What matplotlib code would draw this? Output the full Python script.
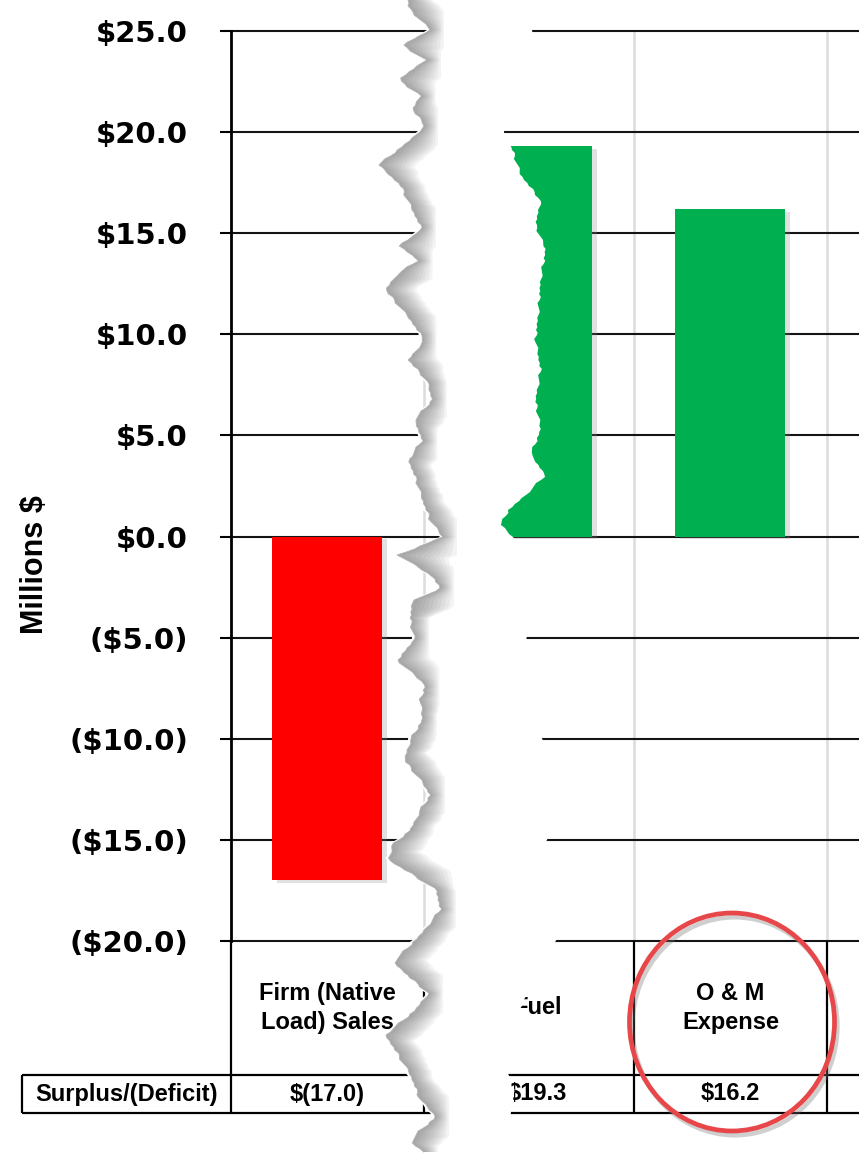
import numpy as np
import matplotlib
matplotlib.use('Agg')
import matplotlib.pyplot as plt
import matplotlib.patheffects as pe
from matplotlib.patches import Ellipse, Polygon
from matplotlib.ticker import FuncFormatter

# data
categories = ['Firm (Native\nLoad) Sales', 'Fuel', 'O & M\nExpense']
values = [-17.0, 19.3, 16.2]
row_label = 'Surplus/(Deficit)'
y_ticks = [-20, -15, -10, -5, 0, 5, 10, 15, 20, 25]

# torn paper edges (pixel rows / columns)
left_y = [0, 8, 20, 30, 45, 60, 80, 95, 110, 125, 140, 165, 185, 210, 230, 245, 260, 275, 290, 305,
          320, 340, 360, 380, 400, 420, 440, 460, 480, 500, 520, 537, 555, 577, 590, 600, 620, 640, 660, 685,
          700, 720, 740, 760, 780, 795, 810, 830, 845, 860, 875, 890, 910, 935, 962, 978, 993, 1010, 1035, 1055,
          1075, 1100, 1117, 1130, 1142, 1153]
left_x = [408, 408, 420, 430, 402, 425, 398, 420, 412, 425, 410, 378, 400, 412, 422, 398, 418, 396, 385, 398,
          410, 424, 408, 426, 432, 414, 422, 408, 416, 422, 430, 442, 398, 433, 440, 412, 410, 414, 397, 425,
          420, 422, 410, 404, 420, 430, 420, 410, 392, 388, 413, 436, 440, 420, 393, 410, 428, 415, 385, 398,
          410, 420, 436, 420, 410, 425]
right_y = [0, 31, 80, 132, 150, 175, 200, 225, 250, 280, 310, 340, 370, 400, 430, 455, 475, 495, 510, 525,
           540, 590, 637, 690, 739, 790, 840, 890, 941, 970, 1010, 1050, 1075, 1094, 1113, 1153]
right_x = [535, 532, 515, 502, 512, 520, 540, 535, 545, 540, 538, 535, 540, 535, 540, 530, 545, 525, 508, 500,
           515, 520, 525, 535, 542, 544, 546, 550, 556, 532, 520, 512, 508, 514, 510, 505]

plt.rcParams['font.family'] = 'DejaVu Sans'
plt.rcParams['font.weight'] = 'bold'

W, H = 859, 1153
fig = plt.figure(figsize=(W / 100, H / 100), dpi=100)
ax = fig.add_axes([231 / W, (H - 941) / H, 628 / W, 910 / H])

# category slots (the tear swallows a bit of space after the first one)
n = len(categories)
x = np.arange(n) + np.where(np.arange(n) > 0, 0.088, 0)
colors = ['#ff0000' if v < 0 else '#00b050' for v in values]
bars = ax.bar(x, values, width=0.57, color=colors, zorder=3)
for b in bars:
    b.set_path_effects([pe.SimplePatchShadow(offset=(3, -2), shadow_rgbFace='#888888', alpha=0.25),
                        pe.Normal()])

ax.set_xlim(-0.5, 2.754)
ax.set_ylim(-20, 25)
ax.set_yticks(y_ticks)
ax.yaxis.set_major_formatter(FuncFormatter(
    lambda v, p: f'${v:.1f}' if v >= 0 else f'(${-v:.1f})'))
ax.tick_params(axis='y', length=8, width=1.5, pad=23, labelsize=21)
ax.set_xticks([])
ax.grid(axis='y', color='#141414', lw=1.5)
ax.set_axisbelow(True)
for gl in ax.get_ygridlines():
    gl.set_clip_on(False)
for s in ['top', 'right', 'bottom']:
    ax.spines[s].set_visible(False)
ax.spines['left'].set_linewidth(2)

edges = x + 0.5
for e in edges:
    ax.axvline(e, color='#dcdcdc', lw=1.8, zorder=0.4)

ax.set_ylabel('Millions $', fontsize=22, fontweight='bold', family='Liberation Sans')
ax.yaxis.set_label_coords((50 - 231) / 628, (941 - 565) / 910)

# data table under the plot
tr = ax.get_xaxis_transform()
y_mid = (941 - 1075) / 910
y_bot = (941 - 1113) / 910
x_lab = (22 - 327.5) / 193
x_right = 2.754
lk = dict(color='black', lw=1.6, transform=tr, clip_on=False, solid_capstyle='butt')
ax.plot([x_lab, x_right], [y_mid, y_mid], **lk)
ax.plot([x_lab, x_right], [y_bot, y_bot], **lk)
ax.plot([x_lab, x_lab], [y_mid, y_bot], **lk)
for e in [-0.5] + list(edges):
    ax.plot([e, e], [0, y_bot], **lk)

tk = dict(family='Liberation Sans', fontweight='bold', fontsize=17, ha='center', va='center',
          transform=tr, clip_on=False)
for xi, c, v in zip(x, categories, values):
    ax.text(xi, (941 - 1008) / 910, c, linespacing=1.3, **tk)
    txt = f'${v:.1f}' if v >= 0 else f'$({-v:.1f})'
    ax.text(xi, (941 - 1094) / 910, txt, **tk)
ax.text((x_lab - 0.5) / 2, (941 - 1094) / 910, row_label, **tk)

# overlay in pixel space: torn paper + red circle
ov = fig.add_axes([0, 0, 1, 1])
ov.set_xlim(0, W)
ov.set_ylim(H, 0)
ov.axis('off')


def rough(ys, xs):
    yy = np.arange(ys[0], ys[-1] + 1, 3)
    xx = np.interp(yy, ys, xs)
    jag = np.resize([0, 1, 0, 2, 1, -1, 0, 1, 2, 1, 0, 1], len(yy))
    return yy, xx + jag


ly, lx = rough(left_y, left_x)
ry, rx = rough(right_y, right_x)
gap = np.r_[np.c_[lx - 3, ly], np.c_[rx, ry][::-1]]
ov.add_patch(Polygon(gap, closed=True, fc='white', ec='none', zorder=1))

outer = np.array([lx[max(0, i - 6):i + 7].max() for i in range(len(lx))]) + 14
for f in np.linspace(1.0, 0.1, 10):
    band = np.r_[np.c_[lx, ly], np.c_[lx + (outer - lx) * f, ly][::-1]]
    ov.add_patch(Polygon(band, closed=True, fc='#555555', ec='none', alpha=0.065, zorder=2))
ov.plot(lx, ly, color='#b4b4b4', lw=0.6, zorder=3)

ell = Ellipse((732, 1022), 205, 218, fill=False, ec='#e8474a', lw=3.4, zorder=4)
ell.set_path_effects([pe.SimpleLineShadow(offset=(2, -3), shadow_color='#777777', alpha=0.35),
                      pe.Normal()])
ov.add_patch(ell)

fig.savefig('out.png', dpi=100)
